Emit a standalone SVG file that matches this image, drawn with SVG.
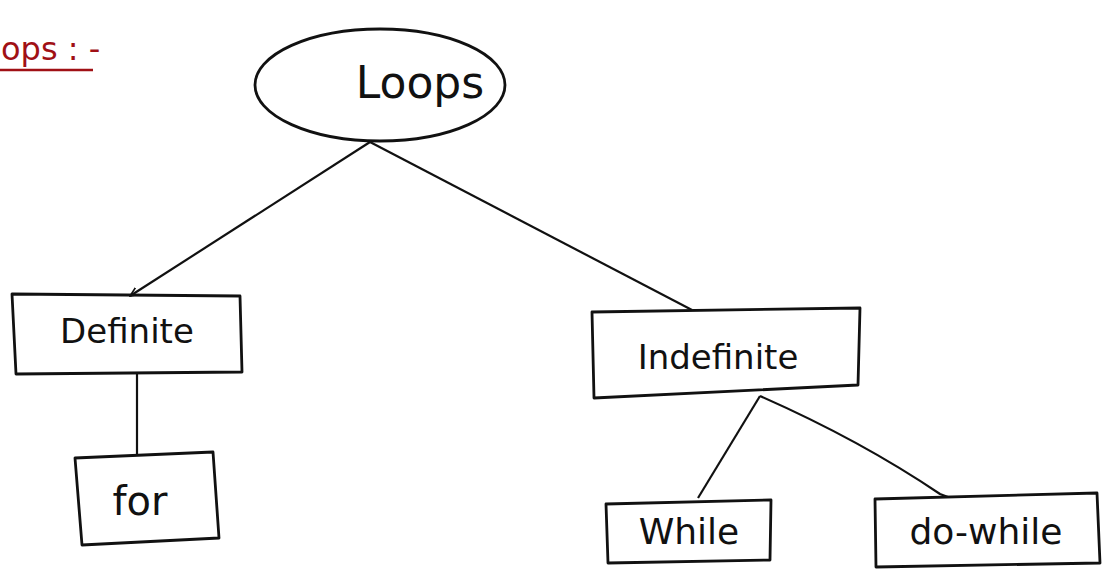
<svg xmlns="http://www.w3.org/2000/svg" width="1112" height="585" viewBox="0 0 1112 585">
<defs>
<style>
.box{fill:none;stroke:#111;stroke-width:2.8;stroke-linejoin:round}
.edge{fill:none;stroke:#111;stroke-width:2.2}
.lbl{font-family:"DejaVu Sans","Liberation Sans",sans-serif;fill:#111;text-anchor:middle}
.title{font-family:"DejaVu Sans","Liberation Sans",sans-serif;fill:#a01015;font-size:32px}
</style>
<marker id="arr" viewBox="0 0 10 10" refX="9" refY="5" markerWidth="10" markerHeight="10" orient="auto-start-reverse" markerUnits="userSpaceOnUse">
<path d="M0,1 L9,5 L0,9" fill="none" stroke="#111" stroke-width="1.6"/>
</marker>
</defs>
<rect width="1112" height="585" fill="#ffffff"/>
<g id="heading">
<text class="title" x="1" y="60">ops : -</text>
<line x1="0" y1="70" x2="93" y2="70" stroke="#a01015" stroke-width="2.5"/>
</g>
<g id="connectors">
<path class="edge" d="M370,142 L130,296" marker-end="url(#arr)"/>
<path class="edge" d="M370,142 L692,310"/>
<path class="edge" d="M137,372 L137,455"/>
<path class="edge" d="M760,396 L698,498"/>
<path class="edge" d="M760,396 Q860,440 940,494 L948,497"/>
</g>
<g id="loops">
<ellipse class="box" cx="380" cy="85" rx="125" ry="56"/>
<text class="lbl" x="420" y="98" font-size="44">Loops</text>
</g>
<g id="definite">
<path class="box" d="M12,294 L240,296 L242,372 L16,374 Z"/>
<text class="lbl" x="127" y="343" font-size="34">Definite</text>
</g>
<g id="indefinite">
<path class="box" d="M592,312 L860,308 L858,385 L594,398 Z"/>
<text class="lbl" x="718" y="369" font-size="34">Indefinite</text>
</g>
<g id="for">
<path class="box" d="M75,458 L213,452 L219,538 L82,545 Z"/>
<text class="lbl" x="140" y="515" font-size="40">for</text>
</g>
<g id="while">
<path class="box" d="M606,504 L771,500 L770,560 L608,563 Z"/>
<text class="lbl" x="689" y="544" font-size="36">While</text>
</g>
<g id="dowhile">
<path class="box" d="M875,499 L1097,493 L1100,563 L876,567 Z"/>
<text class="lbl" x="986" y="544" font-size="36">do-while</text>
</g>
</svg>
